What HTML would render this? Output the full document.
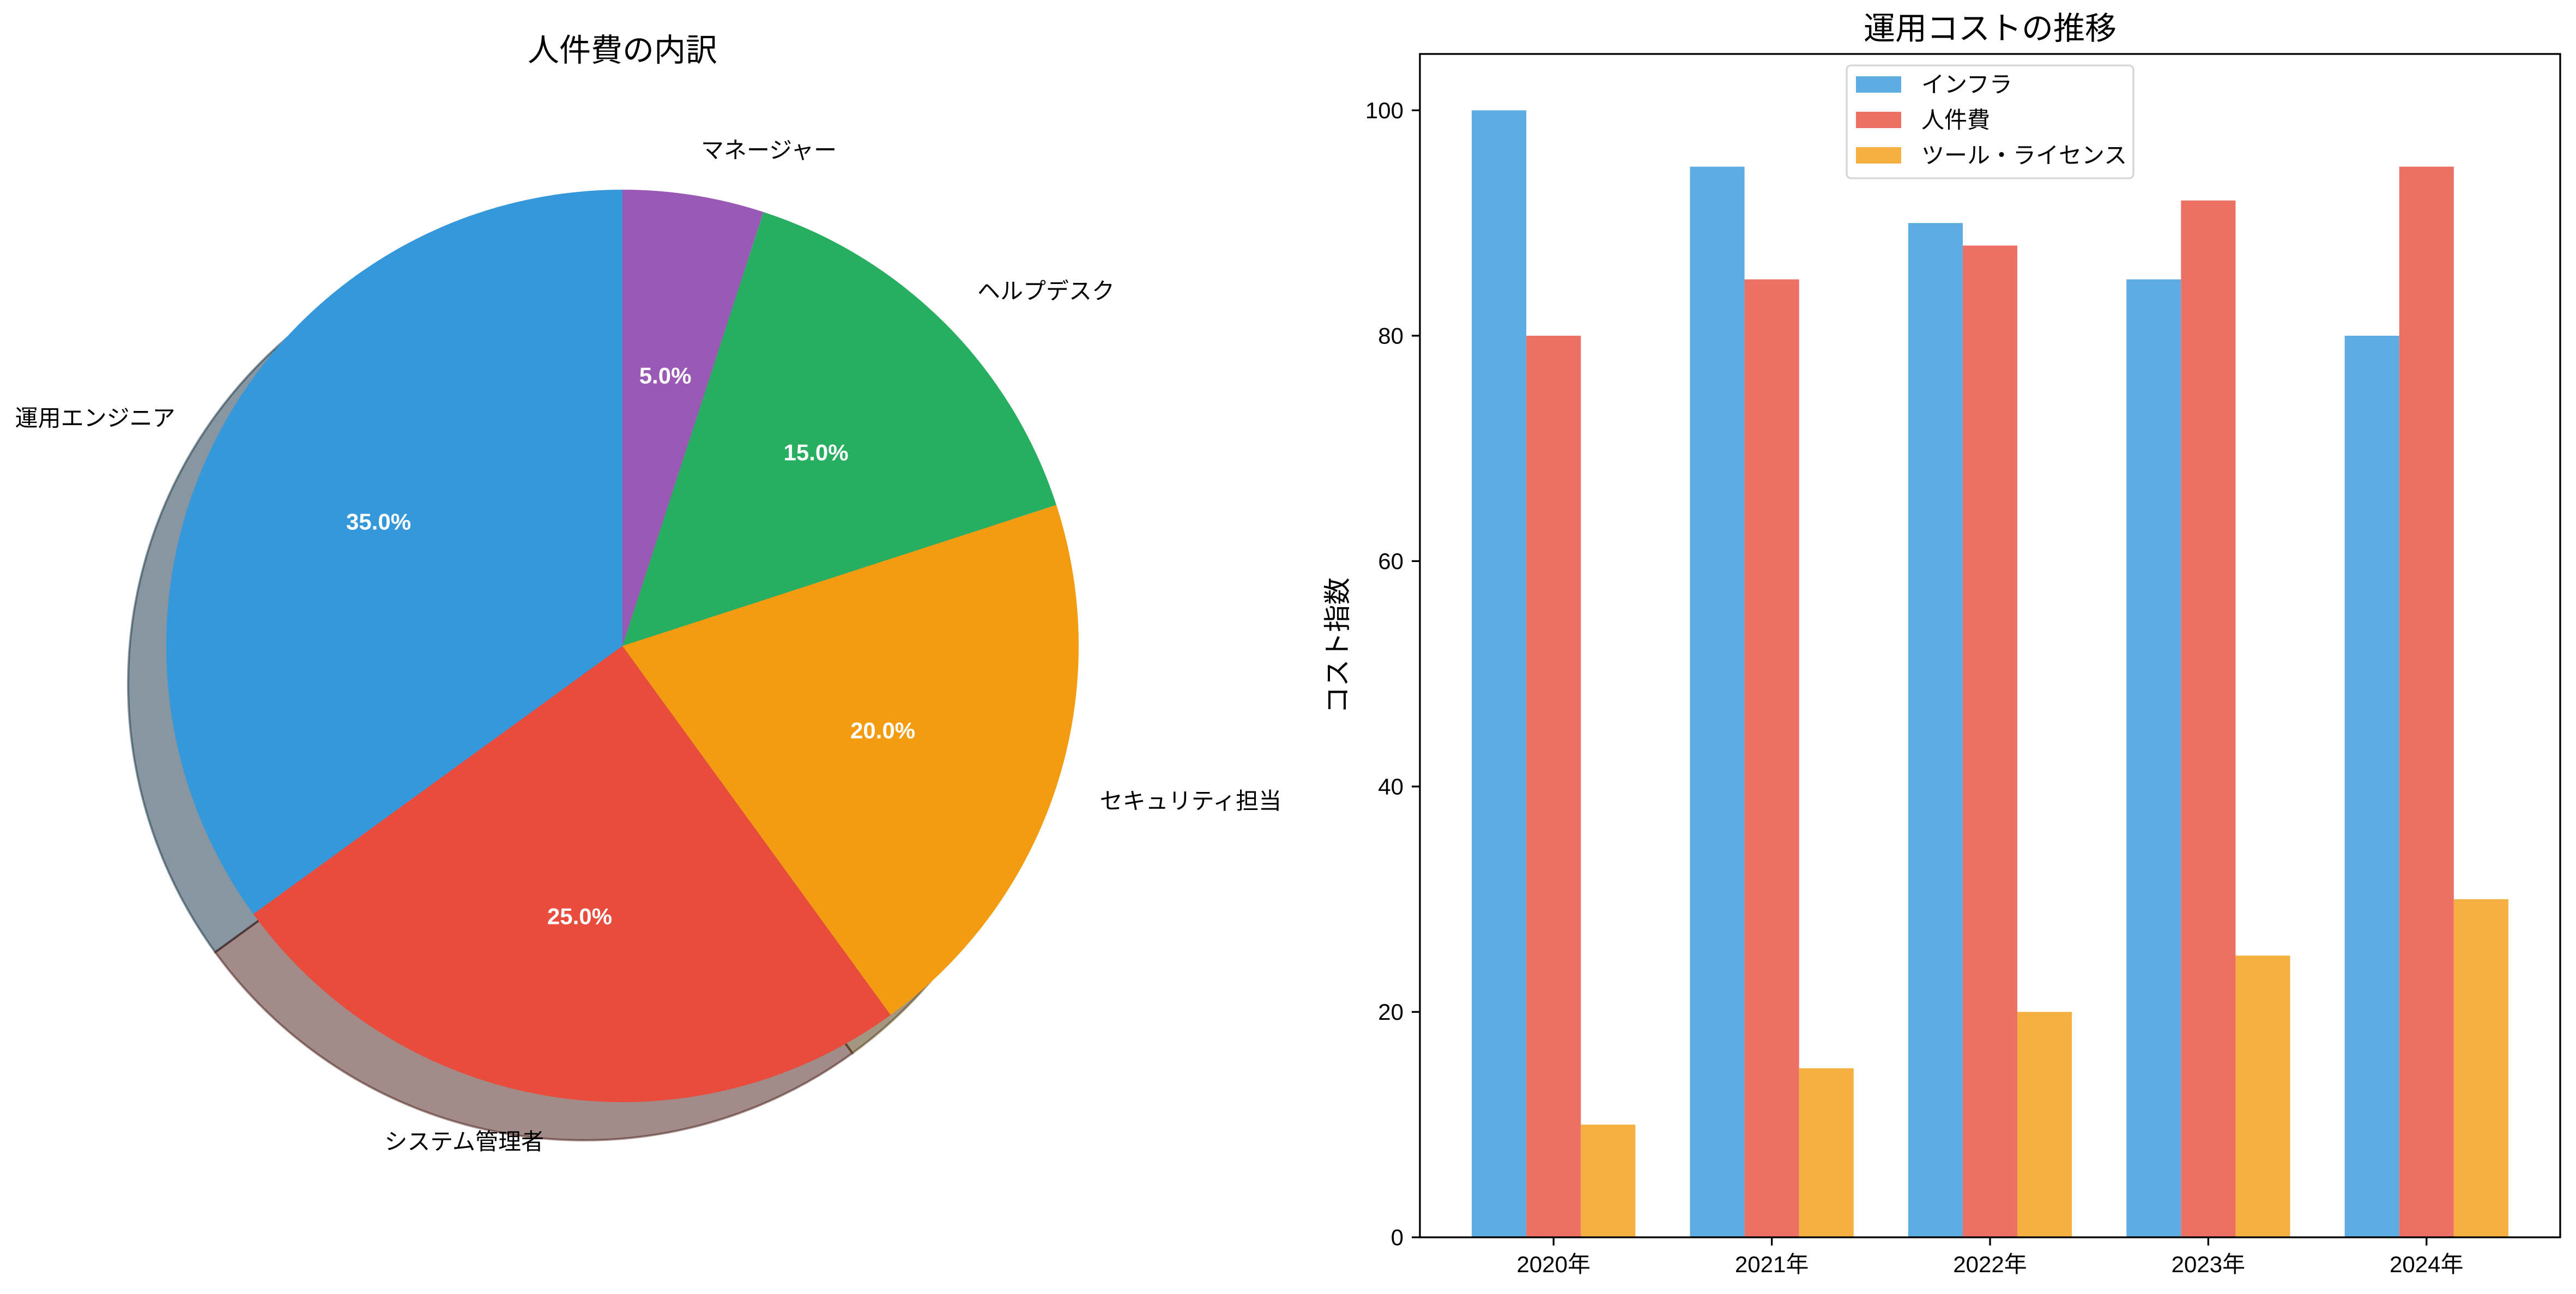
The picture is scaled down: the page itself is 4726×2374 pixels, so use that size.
<!DOCTYPE html>
<html><head><meta charset="utf-8"><style>
html,body{margin:0;padding:0;background:#fff;}
svg{display:block;}
text{font-family:"Liberation Sans","DejaVu Sans","Noto Sans CJK JP",sans-serif;}
</style></head><body>
<svg id="fig" xmlns="http://www.w3.org/2000/svg" width="4726" height="2374" viewBox="0 0 4726 2374">
<rect x="0" y="0" width="4726" height="2374" fill="#fff"/>
<g id="pie"></g>
<g id="bar"></g>
</svg>
<script>
const pieLabels = ["運用エンジニア","システム管理者","セキュリティ担当","ヘルプデスク","マネージャー"];
const pieValues = [35,25,20,15,5];
const pieColors = ["#3498db","#e74c3c","#f39c12","#27ae60","#9b59b6"];

const years = ["2020年","2021年","2022年","2023年","2024年"];
const infraValues = [100,95,90,85,80];
const laborValues = [80,85,88,92,95];
const toolValues = [10,15,20,25,30];
const seriesNames = ["インフラ","人件費","ツール・ライセンス"];
const yTicks = [0,20,40,60,80,100];

const NS = "http://www.w3.org/2000/svg";
function mk(parent, tag, attrs){
  const e = document.createElementNS(NS, tag);
  for (const k in attrs) e.setAttribute(k, attrs[k]);
  parent.appendChild(e);
  return e;
}

// ---------- PIE ----------
const pie = document.getElementById('pie');
const cx = 1142, cy = 1185, R = 837, sdx = -70, sdy = 70;
const total = pieValues.reduce((a,b)=>a+b,0);
function pt(x0,y0,r,deg){ const a = deg*Math.PI/180; return [x0 + r*Math.cos(a), y0 - r*Math.sin(a)]; }
function wedgePath(x0,y0,r,a1,a2){
  const p1 = pt(x0,y0,r,a1), p2 = pt(x0,y0,r,a2);
  const large = (a2-a1) > 180 ? 1 : 0;
  return `M${x0},${y0} L${p1[0]},${p1[1]} A${r},${r} 0 ${large} 0 ${p2[0]},${p2[1]} Z`;
}
const ttl = mk(pie,'text',{x:cx,y:112,'text-anchor':'middle','font-size':58,fill:'#000'});


ttl.textContent = "人件費の内訳";

let ang = 90;
const angles = pieValues.map(v => { const a1 = ang; ang += v/total*360; return [a1, ang]; });
// shadows
angles.forEach((a,i) => {
  const c = pieColors[i];
  const r = parseInt(c.substr(1,2),16)*0.3, g = parseInt(c.substr(3,2),16)*0.3, b = parseInt(c.substr(5,2),16)*0.3;
  const s = mk(pie,'path',{d:wedgePath(cx+sdx,cy+sdy,R,a[0],a[1]),fill:`rgba(${r},${g},${b},0.5)`,stroke:`rgba(${r},${g},${b},0.5)`,'stroke-width':4});
  
  
});
angles.forEach((a,i) => {
  const w = mk(pie,'path',{d:wedgePath(cx,cy,R,a[0],a[1]),fill:pieColors[i]});
  
  
});
angles.forEach((a,i) => {
  const mid = (a[0]+a[1])/2;
  const lp = pt(cx,cy,R*1.1,mid);
  const cosm = Math.cos(mid*Math.PI/180);
  const t = mk(pie,'text',{x:lp[0],y:lp[1],'text-anchor':cosm>=0?'start':'end','dominant-baseline':'central','font-size':42,fill:'#000'});
  
  
  t.textContent = pieLabels[i];
  const pp = pt(cx,cy,R*0.6,mid);
  const p = mk(pie,'text',{x:pp[0],y:pp[1],'text-anchor':'middle','dominant-baseline':'central','font-size':42,'font-weight':'bold',fill:'#fff'});
  
  
  p.textContent = (pieValues[i]/total*100).toFixed(1)+'%';
});

// ---------- BAR ----------
const bar = document.getElementById('bar');
const L = 2605, Rr = 4697, T = 99, B = 2270;
const xMin = -0.6125, xMax = 4.6125, yMin = 0, yMax = 105;
const xs = v => L + (v - xMin)/(xMax - xMin)*(Rr - L);
const ys = v => B - (v - yMin)/(yMax - yMin)*(B - T);
const bw = 0.25;
const series = [infraValues, laborValues, toolValues];
const barColors = ["#5dade2","#ec7063","#f5b041"];
series.forEach((vals,s) => {
  vals.forEach((v,i) => {
    const x0 = xs(i + (s-1)*bw - bw/2), x1 = xs(i + (s-1)*bw + bw/2);
    const r = mk(bar,'rect',{x:x0,y:ys(v),width:x1-x0,height:ys(0)-ys(v),fill:barColors[s]});
    
    
  });
});
const frame = mk(bar,'rect',{x:L,y:T,width:Rr-L,height:B-T,fill:'none',stroke:'#000','stroke-width':3.3});


yTicks.forEach(v => {
  const y = ys(v);
  mk(bar,'line',{x1:L-15,x2:L,y1:y,y2:y,stroke:'#000','stroke-width':3.3});
  const t = mk(bar,'text',{x:L-30,y:y,'text-anchor':'end','dominant-baseline':'central','font-size':42,fill:'#000'});
  
  
  t.textContent = v;
});
years.forEach((yr,i) => {
  const x = xs(i);
  mk(bar,'line',{x1:x,x2:x,y1:B,y2:B+15,stroke:'#000','stroke-width':3.3});
  const t = mk(bar,'text',{x:x,y:B+64,'text-anchor':'middle','font-size':42,fill:'#000'});
  
  
  t.textContent = yr;
});
const bt = mk(bar,'text',{x:(L+Rr)/2,y:72,'text-anchor':'middle','font-size':58,fill:'#000'});


bt.textContent = "運用コストの推移";
const yl = mk(bar,'text',{x:0,y:0,'text-anchor':'middle','dominant-baseline':'central','font-size':50,fill:'#000',transform:`translate(2454,${(T+B)/2}) rotate(-90)`});


yl.textContent = "コスト指数";
// legend
const lg = mk(bar,'g',{});


mk(lg,'rect',{x:3388,y:120,width:526,height:207,rx:8,fill:'#fff',stroke:'#d6d6d6','stroke-width':3.3});
seriesNames.forEach((n,i) => {
  const cyy = 155 + i*65;
  const sw = mk(lg,'rect',{x:3405,y:cyy-15,width:83,height:30,fill:barColors[i]});
  
  
  const t = mk(lg,'text',{x:3525,y:cyy,'dominant-baseline':'central','font-size':42,fill:'#000'});
  
  
  t.textContent = n;
});
</script>
</body></html>
